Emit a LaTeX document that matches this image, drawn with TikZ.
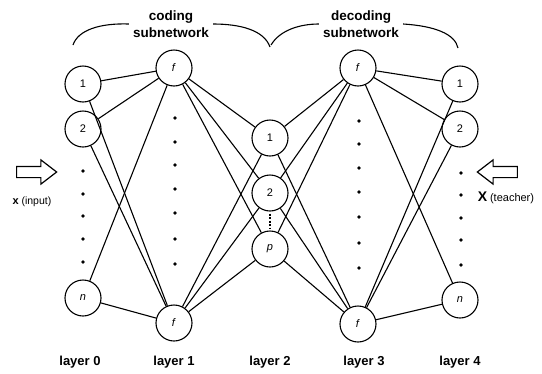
\documentclass[tikz,border=0pt]{standalone}
\usepackage{fontspec}
\setmainfont{Liberation Sans}
\usetikzlibrary{shapes.arrows}
\tikzset{v/.style={draw,circle,minimum size=36pt,inner sep=0pt,line width=1.1pt,fill=white,font=\fontsize{11}{13}\selectfont},
lay/.style={font=\fontsize{13}{15}\selectfont\bfseries},
sub/.style={align=center,inner sep=4pt,font=\fontsize{13.5}{17}\selectfont\bfseries},
harr/.style={draw,single arrow,line width=1.2pt,inner sep=5pt,minimum height=40pt,single arrow head extend=6.5pt,single arrow tip angle=75},
wire/.style={line width=1.1pt}}

\begin{document}
\begin{tikzpicture}[x=1pt,y=-1pt]
\useasboundingbox (0,0) rectangle (542,373);
% layers
\node[v](a1)at(83,84){1};\node[v](a2)at(83,129){2};\node[v](an)at(83,298){\textit{n}};
\node[v](b1)at(174,68){\textit{f}};\node[v](bn)at(174,323){\textit{f}};
\node[v](c1)at(270,138){1};\node[v](c2)at(270,193){2};\node[v](cp)at(270,249){\textit{p}};
\node[v](d1)at(358,68){\textit{f}};\node[v](dn)at(358,324){\textit{f}};
\node[v](e1)at(460,84){1};\node[v](e2)at(460,129){2};\node[v](en)at(460,300){\textit{n}};
% connections
\foreach\a in{a1,a2,an}\foreach\b in{b1,bn}\draw[wire](\a)--(\b);
\foreach\a in{b1,bn}\foreach\b in{c1,c2,cp}\draw[wire](\a)--(\b);
\foreach\a in{c1,c2,cp}\foreach\b in{d1,dn}\draw[wire](\a)--(\b);
\foreach\a in{d1,dn}\foreach\b in{e1,e2,en}\draw[wire](\a)--(\b);
\draw[line width=2.6pt,dash pattern=on 2pt off 1.5pt,shorten >=2pt,shorten <=2pt](c2)--(cp);
% dots
\foreach\y in{171,194,216,239,262}\fill(83,\y)circle(1.8);
\foreach\y in{118,142,165,189,213,239,264}\fill(175,\y)circle(1.8);
\foreach\y in{121,144,168,192,217,243,268}\fill(359,\y)circle(1.8);
\foreach\y in{173,195,218,240,265}\fill(461,\y)circle(1.8);
% braces
\node[sub](code)at(171,24){coding\\subnetwork};
\node[sub](decode)at(361,24){decoding\\subnetwork};
\draw[wire](73,45)..controls(78,30)and(100,23)..(code.west);
\draw[wire](code.east)..controls(240,24)and(264,30)..(270,47);
\draw[wire](271,45)..controls(280,30)and(300,24)..(decode.west);
\draw[wire](decode.east)..controls(435,26)and(455,34)..(458,48);
% input and teacher
\node[harr](inarr)at(33,172){};
\node[harr,shape border rotate=180](teacharr)at(501,172){};
\node(inlbl)at(32,202){{\fontsize{11}{13}\selectfont\bfseries x} {\fontsize{10.5}{12}\selectfont(input)}};
\node(teachlbl)at(506,198){{\fontsize{14}{15}\selectfont\bfseries X} {\fontsize{11}{13}\selectfont(teacher)}};
% layer labels
\node[lay](lab0)at(80,362){layer 0};\node[lay](lab1)at(174,362){layer 1};
\node[lay](lab2)at(270,362){layer 2};\node[lay](lab3)at(364,362){layer 3};
\node[lay](lab4)at(460,362){layer 4};
\end{tikzpicture}
\end{document}
